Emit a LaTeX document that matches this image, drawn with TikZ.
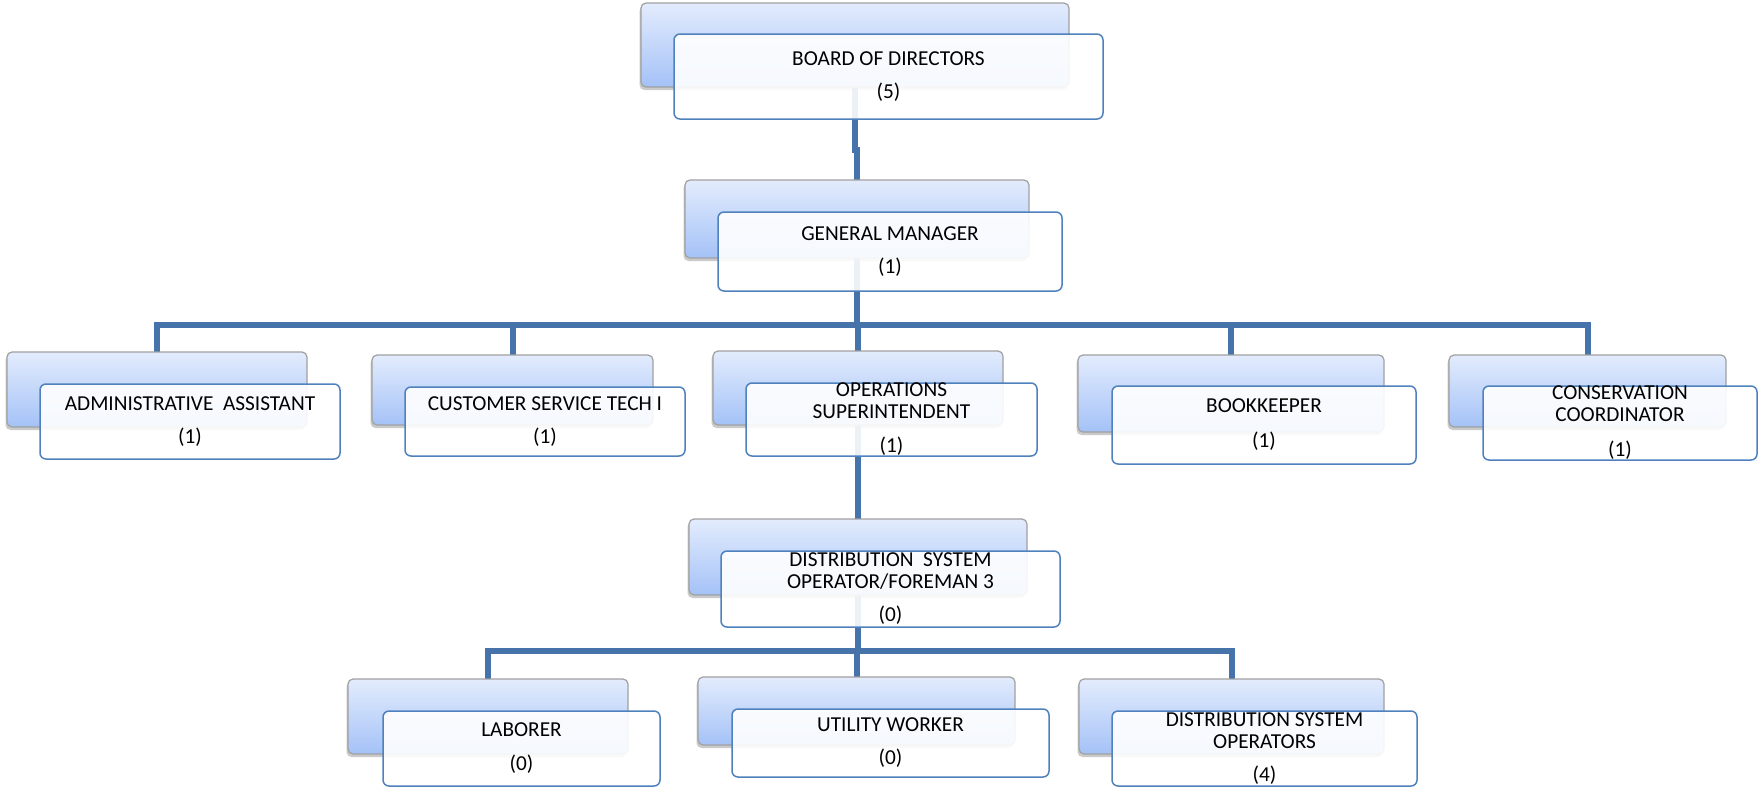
\documentclass[tikz,border=0pt]{standalone}
\usepackage{fontspec}
\setmainfont{Carlito}
\usetikzlibrary{shadows}
\definecolor{connblue}{HTML}{4773AB}
\definecolor{frameblue}{HTML}{4F81BD}
\definecolor{gradtop}{HTML}{E3ECFD}
\definecolor{gradbot}{HTML}{A4C2F7}
\definecolor{backframe}{HTML}{A0A0A0}
\pgfdeclarelayer{background}
\pgfsetlayers{background,main}
\tikzset{
 backbox/.style={rectangle, rounded corners=5pt, draw=backframe, line width=1.2pt,
   top color=gradtop, bottom color=gradbot, inner sep=0pt, outer sep=0pt,
   drop shadow={shadow xshift=-1.5pt, shadow yshift=-3pt, opacity=0.35, fill=black!60}},
 frontbox/.style={rectangle, rounded corners=6pt, draw=frameblue, line width=1.5pt,
   fill=white, fill opacity=0.9, text opacity=1, draw opacity=1, inner sep=0pt, outer sep=0pt,
   align=center, font=\fontsize{21.3}{22}\selectfont},
 connline/.style={draw=connblue, line width=6pt},
}
\begin{document}
\begin{tikzpicture}[x=1pt,y=-1pt]
\useasboundingbox (0,0) rectangle (1759,788);
\node[backbox, minimum width=428pt, minimum height=84pt] (bBoard) at (855,45) {};
\node[frontbox, minimum width=429pt, minimum height=85pt] (fBoard) at (888.5,76.5) {BOARD OF DIRECTORS\\[11pt](5)};
\node[backbox, minimum width=344pt, minimum height=78pt] (bGM) at (857,219) {};
\node[frontbox, minimum width=344pt, minimum height=79pt] (fGM) at (890,251.5) {GENERAL MANAGER\\[11pt](1)};
\node[backbox, minimum width=300pt, minimum height=75pt] (bAdmin) at (157,389.5) {};
\node[frontbox, minimum width=300pt, minimum height=75pt] (fAdmin) at (190,421.5) {ADMINISTRATIVE\ \ ASSISTANT\\[11pt](1)};
\node[backbox, minimum width=281pt, minimum height=70pt] (bCST) at (512.5,390) {};
\node[frontbox, minimum width=280pt, minimum height=69pt] (fCST) at (545,421.5) {CUSTOMER SERVICE TECH I\\[11pt](1)};
\node[backbox, minimum width=290pt, minimum height=74pt] (bOps) at (858,388) {};
\node[frontbox, minimum width=291pt, minimum height=73pt] (fOps) at (891.5,419.5) {OPERATIONS\\SUPERINTENDENT\\[12pt](1)};
\node[backbox, minimum width=306pt, minimum height=77pt] (bBK) at (1231,393.5) {};
\node[frontbox, minimum width=304pt, minimum height=78pt] (fBK) at (1264,425) {BOOKKEEPER\\[13pt](1)};
\node[backbox, minimum width=277pt, minimum height=72pt] (bCons) at (1587.5,391) {};
\node[frontbox, minimum width=274pt, minimum height=74pt] (fCons) at (1620,423) {CONSERVATION\\COORDINATOR\\[13pt](1)};
\node[backbox, minimum width=338pt, minimum height=76pt] (bFore) at (858,557) {};
\node[frontbox, minimum width=339pt, minimum height=76pt] (fFore) at (890.5,589) {DISTRIBUTION\ \ SYSTEM\\OPERATOR/FOREMAN 3\\[11pt](0)};
\node[backbox, minimum width=280pt, minimum height=75pt] (bLab) at (488,716.5) {};
\node[frontbox, minimum width=277pt, minimum height=75pt] (fLab) at (521.5,748.5) {LABORER\\[12pt](0)};
\node[backbox, minimum width=317pt, minimum height=68pt] (bUtil) at (856.5,711) {};
\node[frontbox, minimum width=317pt, minimum height=68pt] (fUtil) at (890.5,743) {UTILITY WORKER\\[11pt](0)};
\node[backbox, minimum width=305pt, minimum height=75pt] (bDSO) at (1231.5,716.5) {};
\node[frontbox, minimum width=305pt, minimum height=75pt] (fDSO) at (1264.5,748.5) {DISTRIBUTION SYSTEM\\OPERATORS\\[11pt](4)};
\coordinate (jog) at (857,150);
\coordinate (bus1) at (857,325);
\coordinate (bus2) at (858,651);
\begin{pgfonlayer}{background}
\draw[connline] (bBoard.south) |- (jog) -- (bGM.north);
\draw[connline] (bGM.south) -- (bGM.south |- bus1) -| (bAdmin.north);
\draw[connline] (bGM.south) -- (bGM.south |- bus1) -| (bCST.north);
\draw[connline] (bGM.south) -- (bGM.south |- bus1) -| (bOps.north);
\draw[connline] (bGM.south) -- (bGM.south |- bus1) -| (bBK.north);
\draw[connline] (bGM.south) -- (bGM.south |- bus1) -| (bCons.north);
\draw[connline] (bOps.south) -- (bFore.north);
\draw[connline] (bFore.south) -- (bFore.south |- bus2) -| (bLab.north);
\draw[connline] (bFore.south) -- (bFore.south |- bus2) -| (bUtil.north);
\draw[connline] (bFore.south) -- (bFore.south |- bus2) -| (bDSO.north);
\end{pgfonlayer}
\end{tikzpicture}
\end{document}
